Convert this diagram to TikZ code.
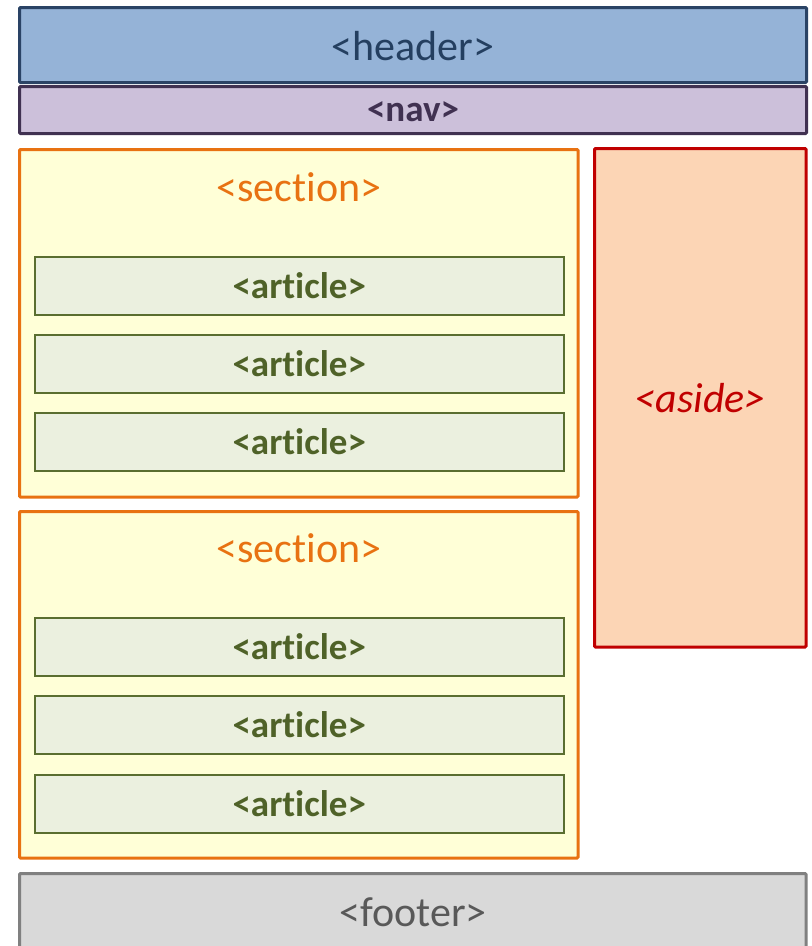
\documentclass[tikz,border=0pt]{standalone}
\usepackage{fontspec}
\setmainfont[Ligatures=NoCommon]{Carlito}
\definecolor{hdrfill}{HTML}{95B3D7}
\definecolor{hdrline}{HTML}{2A4365}
\definecolor{hdrtext}{HTML}{243F60}
\definecolor{navfill}{HTML}{CCC0DA}
\definecolor{navline}{HTML}{403151}
\definecolor{secfill}{HTML}{FFFFD7}
\definecolor{secline}{HTML}{E87212}
\definecolor{artfill}{HTML}{EBF0DF}
\definecolor{artline}{HTML}{5A6E30}
\definecolor{arttext}{HTML}{4F6228}
\definecolor{asdfill}{HTML}{FCD5B5}
\definecolor{asdline}{HTML}{C00000}
\definecolor{ftrfill}{HTML}{D9D9D9}
\definecolor{ftrline}{HTML}{808080}
\definecolor{ftrtext}{HTML}{595959}
\begin{document}
\begin{tikzpicture}[x=1pt,y=-1pt,
  box/.style={inner sep=0pt, outer sep=0pt, rounded corners=1pt, line width=3pt},
  bigfont/.style={font=\fontsize{42}{50}\selectfont},
  hdrbox/.style={box, draw=hdrline, fill=hdrfill, text=hdrtext, bigfont},
  navbox/.style={box, draw=navline, fill=navfill, text=navline, font=\fontsize{37}{44}\selectfont\bfseries},
  secbox/.style={box, draw=secline, fill=secfill},
  seclabel/.style={inner sep=0pt, text=secline, bigfont},
  artbox/.style={box, line width=2pt, rounded corners=0pt, draw=artline, fill=artfill, text=arttext, font=\fontsize{37}{44}\selectfont\bfseries, minimum width=528.5pt, minimum height=58pt},
  asdbox/.style={box, draw=asdline, fill=asdfill, text=asdline, font=\fontsize{42}{50}\selectfont\itshape},
  ftrbox/.style={box, draw=ftrline, fill=ftrfill, text=ftrtext, bigfont}
]
\useasboundingbox (0,0) rectangle (812,946);
\begin{scope}
\clip (0,0) rectangle (812,946);
\node[hdrbox, minimum width=787pt, minimum height=75pt] (header) at (413,45) {};
\node[inner sep=0pt, text=hdrtext, bigfont] (hdrlbl) at (413,46) {<header>};
\node[navbox, minimum width=787pt, minimum height=47pt] (nav) at (413,110) {};
\node[inner sep=0pt, text=navline, font=\fontsize{37}{44}\selectfont\bfseries] (navlbl) at (413,112) {<nav>};
\node[secbox, minimum width=558.5pt, minimum height=347.5pt] (sec1) at (298.75,323.25) {};
\node[seclabel] (sec1lbl) at (299,187) {<section>};
\node[artbox] (a1) at (299.25,286) {<article>};
\node[artbox] (a2) at (299.25,364) {<article>};
\node[artbox] (a3) at (299.25,442) {<article>};
\node[secbox, minimum width=558.5pt, minimum height=346.5pt] (sec2) at (298.75,684.75) {};
\node[seclabel] (sec2lbl) at (299,548) {<section>};
\node[artbox] (a4) at (299.25,647) {<article>};
\node[artbox] (a5) at (299.25,725) {<article>};
\node[artbox] (a6) at (299.25,804) {<article>};
\node[asdbox, minimum width=211.5pt, minimum height=498.5pt] (aside) at (700.25,397.75) {<aside>};
\node[ftrbox, minimum width=786.5pt, minimum height=86.5pt, anchor=north] (footer) at (412.75,873.5) {};
\node[inner sep=0pt, text=ftrtext, bigfont] (ftrlbl) at (413,912) {<footer>};
\end{scope}
\end{tikzpicture}
\end{document}
